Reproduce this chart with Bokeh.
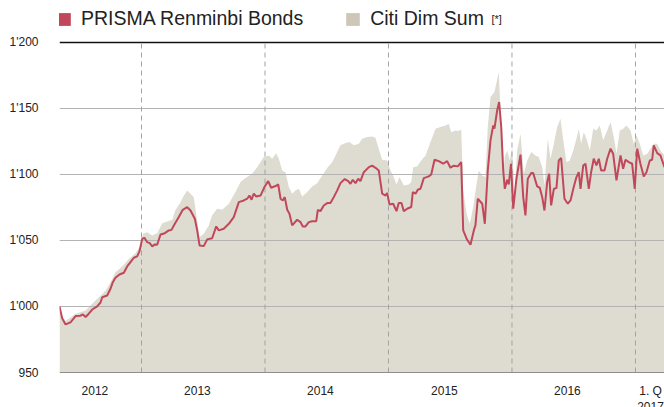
from bokeh.plotting import figure
from bokeh.models import Range1d, FixedTicker, Legend, LegendItem, Label
from bokeh.embed import file_html
from bokeh.resources import INLINE

# ---------------- data (decimal years, index values) ----------------
prisma_x = [2012.336, 2012.358, 2012.385, 2012.425, 2012.466, 2012.506, 2012.525, 2012.547, 2012.573, 2012.601,
            2012.641, 2012.668, 2012.682, 2012.722, 2012.749, 2012.768, 2012.789, 2012.822, 2012.857, 2012.884,
            2012.911, 2012.938, 2012.965, 2012.984, 2013.006, 2013.024, 2013.046, 2013.067, 2013.087, 2013.108,
            2013.127, 2013.154, 2013.189, 2013.221, 2013.243, 2013.270, 2013.302, 2013.334, 2013.370, 2013.397,
            2013.432, 2013.451, 2013.470, 2013.504, 2013.532, 2013.572, 2013.605, 2013.626, 2013.666, 2013.707,
            2013.747, 2013.788, 2013.828, 2013.856, 2013.874, 2013.891, 2013.909, 2013.929, 2013.964, 2013.998,
            2014.026, 2014.050, 2014.091, 2014.107, 2014.126, 2014.144, 2014.160, 2014.180, 2014.198, 2014.220,
            2014.261, 2014.287, 2014.306, 2014.328, 2014.355, 2014.382, 2014.415, 2014.428, 2014.449, 2014.476,
            2014.504, 2014.530, 2014.557, 2014.585, 2014.611, 2014.646, 2014.674, 2014.692, 2014.711, 2014.733,
            2014.755, 2014.773, 2014.800, 2014.841, 2014.868, 2014.895, 2014.921, 2014.949, 2014.976, 2014.989,
            2015.008, 2015.038, 2015.065, 2015.083, 2015.105, 2015.124, 2015.151, 2015.184, 2015.197, 2015.219,
            2015.237, 2015.259, 2015.286, 2015.326, 2015.346, 2015.373, 2015.407, 2015.443, 2015.475, 2015.502,
            2015.529, 2015.561, 2015.589, 2015.605, 2015.637, 2015.664, 2015.691, 2015.704, 2015.723, 2015.759,
            2015.780, 2015.804, 2015.826, 2015.848, 2015.858, 2015.880, 2015.896, 2015.913, 2015.929, 2015.942,
            2015.961, 2015.974, 2015.992, 2016.010, 2016.036, 2016.069, 2016.091, 2016.109, 2016.128, 2016.156,
            2016.172, 2016.204, 2016.225, 2016.245, 2016.263, 2016.285, 2016.301, 2016.317, 2016.339, 2016.360,
            2016.379, 2016.398, 2016.425, 2016.452, 2016.474, 2016.500, 2016.522, 2016.541, 2016.555, 2016.577,
            2016.595, 2016.622, 2016.641, 2016.662, 2016.684, 2016.703, 2016.722, 2016.749, 2016.771, 2016.798,
            2016.819, 2016.846, 2016.879, 2016.900, 2016.919, 2016.946, 2016.973, 2016.994, 2017.014, 2017.040,
            2017.067, 2017.089, 2017.116, 2017.135, 2017.148, 2017.176, 2017.202, 2017.235, 2017.260]
prisma_y = [1000.0, 991.0, 986.4, 988.0, 992.7, 993.0, 994.0, 992.0, 994.5, 997.7,
            1000.0, 1003.0, 1007.0, 1008.3, 1013.4, 1018.4, 1021.7, 1024.2, 1025.5, 1030.3,
            1033.6, 1036.9, 1037.9, 1041.9, 1051.3, 1052.0, 1048.7, 1048.0, 1045.5, 1047.0,
            1046.7, 1054.5, 1055.5, 1057.6, 1058.0, 1062.6, 1067.7, 1073.2, 1075.2, 1072.7,
            1066.4, 1057.6, 1046.2, 1045.7, 1050.8, 1051.7, 1060.6, 1057.6, 1058.8, 1062.6,
            1067.7, 1079.0, 1080.3, 1081.6, 1084.0, 1080.8, 1085.4, 1083.3, 1084.0, 1090.9,
            1094.9, 1089.9, 1091.4, 1092.4, 1081.6, 1080.3, 1082.8, 1073.2, 1070.2, 1061.4,
            1065.7, 1063.9, 1060.6, 1060.6, 1063.9, 1064.6, 1064.6, 1073.2, 1072.2, 1076.5,
            1078.3, 1078.3, 1082.8, 1087.9, 1093.4, 1096.5, 1094.9, 1092.9, 1095.9, 1093.4,
            1096.7, 1094.9, 1101.7, 1105.5, 1106.6, 1105.0, 1103.0, 1085.4, 1084.0, 1086.0,
            1077.3, 1077.8, 1072.2, 1078.3, 1078.3, 1072.2, 1074.0, 1075.3, 1086.6, 1085.4,
            1088.4, 1089.1, 1097.2, 1098.5, 1100.0, 1111.1, 1110.1, 1108.1, 1110.1, 1105.1,
            1106.6, 1106.1, 1109.3, 1057.6, 1050.5, 1046.7, 1057.6, 1061.4, 1081.6, 1077.8,
            1062.6, 1103.0, 1125.8, 1137.1, 1134.6, 1148.5, 1154.8, 1135.9, 1103.0, 1089.1,
            1095.9, 1092.4, 1108.0, 1074.0, 1096.7, 1115.0, 1082.8, 1069.0, 1096.7, 1101.0,
            1101.0, 1090.9, 1089.9, 1082.8, 1072.7, 1094.2, 1100.5, 1076.5, 1089.1, 1089.6,
            1110.6, 1112.4, 1081.6, 1077.8, 1080.3, 1090.4, 1098.0, 1101.7, 1089.1, 1106.8,
            1108.1, 1089.1, 1101.7, 1111.9, 1106.8, 1111.9, 1103.0, 1103.0, 1111.9, 1119.5,
            1115.7, 1095.5, 1114.4, 1104.3, 1111.1, 1109.3, 1108.1, 1089.1, 1119.5, 1108.1,
            1098.5, 1101.7, 1110.6, 1111.1, 1122.0, 1116.1, 1114.4, 1105.5, 1110.0]

citi_x = [2012.336, 2012.385, 2012.466, 2012.547, 2012.601, 2012.654, 2012.708, 2012.749, 2012.789, 2012.844,
          2012.897, 2012.951, 2012.992, 2013.011, 2013.046, 2013.087, 2013.127, 2013.168, 2013.208, 2013.249,
          2013.275, 2013.316, 2013.343, 2013.370, 2013.397, 2013.423, 2013.443, 2013.470, 2013.504, 2013.545,
          2013.572, 2013.613, 2013.653, 2013.707, 2013.761, 2013.802, 2013.842, 2013.896, 2013.937, 2013.990,
          2014.031, 2014.058, 2014.091, 2014.112, 2014.139, 2014.166, 2014.193, 2014.220, 2014.247, 2014.274,
          2014.301, 2014.342, 2014.382, 2014.423, 2014.463, 2014.504, 2014.544, 2014.585, 2014.611, 2014.652,
          2014.684, 2014.719, 2014.760, 2014.787, 2014.828, 2014.868, 2014.895, 2014.921, 2014.949, 2014.989,
          2015.016, 2015.043, 2015.065, 2015.089, 2015.124, 2015.164, 2015.184, 2015.200, 2015.232, 2015.265,
          2015.300, 2015.340, 2015.381, 2015.421, 2015.462, 2015.488, 2015.508, 2015.543, 2015.561, 2015.589,
          2015.605, 2015.632, 2015.658, 2015.686, 2015.713, 2015.731, 2015.759, 2015.785, 2015.804, 2015.826,
          2015.858, 2015.893, 2015.913, 2015.929, 2015.942, 2015.961, 2015.982, 2016.002, 2016.020, 2016.042,
          2016.069, 2016.096, 2016.123, 2016.156, 2016.190, 2016.217, 2016.245, 2016.263, 2016.290, 2016.312,
          2016.339, 2016.366, 2016.393, 2016.415, 2016.441, 2016.468, 2016.496, 2016.522, 2016.541, 2016.560,
          2016.581, 2016.603, 2016.630, 2016.658, 2016.684, 2016.711, 2016.738, 2016.771, 2016.798, 2016.824,
          2016.846, 2016.873, 2016.900, 2016.927, 2016.960, 2016.986, 2017.008, 2017.035, 2017.062, 2017.095,
          2017.122, 2017.148, 2017.176, 2017.202, 2017.235, 2017.260]
citi_y = [996.0, 989.0, 994.5, 997.0, 1002.0, 1007.0, 1012.0, 1018.4, 1026.0, 1030.3,
          1036.0, 1040.4, 1046.0, 1055.0, 1056.3, 1053.8, 1055.5, 1063.0, 1064.4, 1065.7,
          1073.0, 1079.0, 1084.0, 1087.9, 1085.4, 1082.8, 1070.2, 1052.5, 1055.0, 1061.4,
          1069.0, 1074.0, 1073.2, 1077.8, 1086.6, 1094.2, 1097.2, 1100.5, 1105.5, 1113.1,
          1114.4, 1111.9, 1116.1, 1111.9, 1103.0, 1101.7, 1090.4, 1085.4, 1087.9, 1089.1,
          1083.3, 1086.6, 1090.9, 1093.4, 1099.2, 1104.8, 1109.3, 1116.9, 1122.0, 1123.7,
          1124.5, 1122.0, 1123.2, 1127.0, 1128.3, 1128.8, 1127.5, 1119.5, 1111.1, 1110.6,
          1103.0, 1098.0, 1092.4, 1098.0, 1091.7, 1092.4, 1094.2, 1105.5, 1106.0, 1110.6,
          1114.4, 1124.5, 1134.6, 1135.9, 1137.1, 1138.4, 1132.0, 1133.3, 1132.8, 1133.8,
          1087.9, 1070.2, 1062.6, 1075.3, 1093.0, 1103.0, 1099.2, 1098.0, 1135.9, 1158.6,
          1162.4, 1177.5, 1135.9, 1099.2, 1113.1, 1118.2, 1110.6, 1120.7, 1085.4, 1118.0,
          1130.8, 1100.5, 1110.6, 1116.9, 1114.4, 1113.1, 1105.5, 1091.7, 1127.0, 1111.9,
          1123.2, 1135.9, 1142.2, 1125.8, 1109.3, 1110.6, 1118.2, 1127.0, 1134.6, 1123.2,
          1132.0, 1127.0, 1118.2, 1134.6, 1133.3, 1137.1, 1125.8, 1133.3, 1139.6, 1128.3,
          1115.7, 1133.3, 1134.6, 1137.1, 1133.3, 1123.2, 1129.5, 1123.2, 1114.4, 1115.7,
          1119.5, 1123.2, 1123.2, 1118.2, 1114.4, 1116.0]

series_names = ["PRISMA Renminbi Bonds", "Citi Dim Sum"]
footnote_mark = "[*]"
year_starts = [2013, 2014, 2015, 2016, 2017]
x_tick_labels = ["2012", "2013", "2014", "2015", "2016", "1. Q\n2017"]
y_ticks = [950, 1000, 1050, 1100, 1150, 1200]
y_tick_labels = ["950", "1'000", "1'050", "1'100", "1'150", "1'200"]

# label anchor positions (centre of each period label on the time axis)
x_tick_pos = [2012.623, 2013.453, 2014.449, 2015.453, 2016.449, 2017.122]

# ---------------- style ----------------
RED = "#c0485a"
AREA = "#dedbd0"
SWATCH_GREY = "#cdc6b9"
FONT = "Liberation Sans"

p = figure(width=664, height=407,
           x_range=Range1d(2012.336, 2017.235),
           y_range=Range1d(923.5, 1231.7),
           output_backend="svg", toolbar_location=None,
           min_border_left=59, min_border_right=0, min_border_top=0, min_border_bottom=0)
p.outline_line_color = None
p.grid.visible = False
p.background_fill_color = "white"
p.border_fill_color = "white"

# area series
p.varea(x=citi_x, y1=y_ticks[0], y2=citi_y, fill_color=AREA)

# gridlines drawn over the area
p.hspan(y=y_ticks[1:-1], line_color="#b3b3b3", line_width=1)
p.hspan(y=[y_ticks[-1]], line_color="#111111", line_width=1.5)
p.segment(x0=year_starts, x1=year_starts, y0=y_ticks[0], y1=y_ticks[-1],
          line_color="#a3a3a3", line_width=1, line_dash="5 4")

# line series
p.line(prisma_x, prisma_y, line_color=RED, line_width=2)

# legend swatches: zero-height areas (invisible in the plot, filled squares in the legend)
sw_red = p.varea(x=prisma_x, y1=prisma_y, y2=prisma_y, fill_color=RED)
sw_grey = p.varea(x=citi_x, y1=citi_y, y2=citi_y, fill_color=SWATCH_GREY)

legend = Legend(items=[LegendItem(label=series_names[0], renderers=[sw_red]),
                       LegendItem(label=series_names[1], renderers=[sw_grey])],
                orientation="horizontal", location=(-4, 377),
                margin=0, padding=0, spacing=41, glyph_width=17, glyph_height=16,
                label_standoff=9, label_text_font=FONT, label_text_font_size="19.5px",
                label_text_color="#222222", background_fill_alpha=0, border_line_color=None)
p.add_layout(legend)

p.add_layout(Label(x=2015.834, y=1222, text=footnote_mark, text_font=FONT,
                   text_font_size="11px", text_color="#222222", text_baseline="top"))

# axes
xa = p.xaxis[0]
xa.fixed_location = y_ticks[0]
xa.ticker = FixedTicker(ticks=x_tick_pos)
xa.major_label_overrides = dict(zip(x_tick_pos, x_tick_labels))
xa.major_tick_line_color = None
xa.minor_tick_line_color = None
xa.major_tick_out = 0
xa.major_tick_in = 0
xa.axis_line_color = "#8f8f8f"
xa.axis_line_width = 1
xa.major_label_standoff = 11
xa.major_label_text_font = FONT
xa.major_label_text_font_size = "12px"
xa.major_label_text_line_height = 1.15
xa.major_label_text_color = "#222222"

ya = p.yaxis[0]
ya.ticker = FixedTicker(ticks=y_ticks)
ya.major_label_overrides = dict(zip(y_ticks, y_tick_labels))
ya.major_tick_line_color = None
ya.minor_tick_line_color = None
ya.major_tick_out = 0
ya.major_tick_in = 0
ya.axis_line_color = None
ya.major_label_standoff = 21
ya.major_label_text_font = FONT
ya.major_label_text_font_size = "12px"
ya.major_label_text_color = "#222222"

open("out.html", "w").write(file_html(p, INLINE))
